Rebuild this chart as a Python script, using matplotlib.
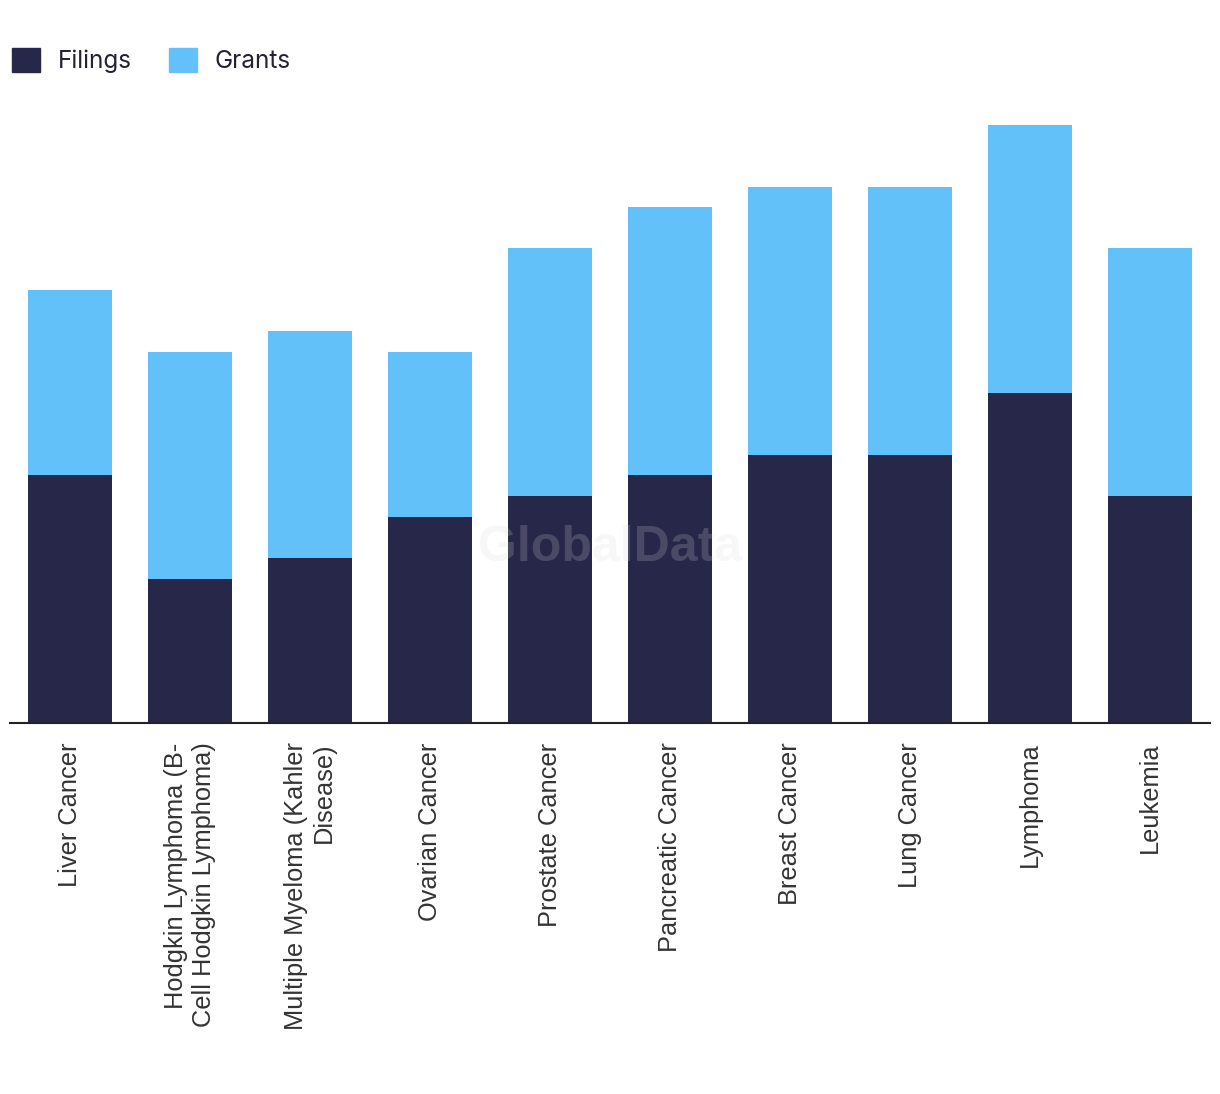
import matplotlib
matplotlib.use("Agg")
import matplotlib.pyplot as plt
from matplotlib.patches import Patch

# data
categories = ["Liver Cancer", "Hodgkin Lymphoma (B-\nCell Hodgkin Lymphoma)",
              "Multiple Myeloma (Kahler\nDisease)", "Ovarian Cancer", "Prostate Cancer",
              "Pancreatic Cancer", "Breast Cancer", "Lung Cancer", "Lymphoma", "Leukemia"]
filings = [12, 7, 8, 10, 11, 12, 13, 13, 16, 11]
grants = [9, 11, 11, 8, 12, 13, 13, 13, 13, 12]

dark = "#27274a"
light = "#62c1f8"

fig = plt.figure(figsize=(12.2, 10.94), dpi=100)
ax = fig.add_axes([10/1220, (1094-723)/1094, 1200/1220, (723-104)/1094])

x = range(len(categories))
ax.bar(x, filings, width=0.7, color=dark, label="Filings")
ax.bar(x, grants, width=0.7, bottom=filings, color=light, label="Grants")

ax.set_xlim(-0.5, len(categories) - 0.5)
ax.set_ylim(0, 30)
ax.set_yticks([])
for s in ["top", "right", "left"]:
    ax.spines[s].set_visible(False)
ax.spines["bottom"].set_color("#222222")
ax.spines["bottom"].set_linewidth(1.5)
ax.set_xticks(list(x))
ax.set_xticklabels(categories, rotation=90, ha="center", va="top", multialignment="right",
                   fontsize=18.3, family="Liberation Sans", color="#333333", linespacing=1.25)
ax.tick_params(axis="x", length=0, pad=14)

# faint watermark
fig.text(610/1220, 1 - 548/1094, "GlobalData", fontsize=36, fontweight="bold",
         color="#d7d7d7", alpha=0.2, ha="center", va="center", family="Liberation Sans")

handles = [Patch(color=dark, label="Filings"), Patch(color=light, label="Grants")]
fig.legend(handles=handles, loc="upper left", bbox_to_anchor=(-0.008, 0.976), ncol=2,
           frameon=False, handlelength=1.15, handleheight=1.15,
           handletextpad=0.75, columnspacing=1.5, prop={"family": "Inter", "size": 17.5})
for t in fig.legends[0].get_texts():
    t.set_color("#222233")

fig.savefig("out.png", dpi=100)
